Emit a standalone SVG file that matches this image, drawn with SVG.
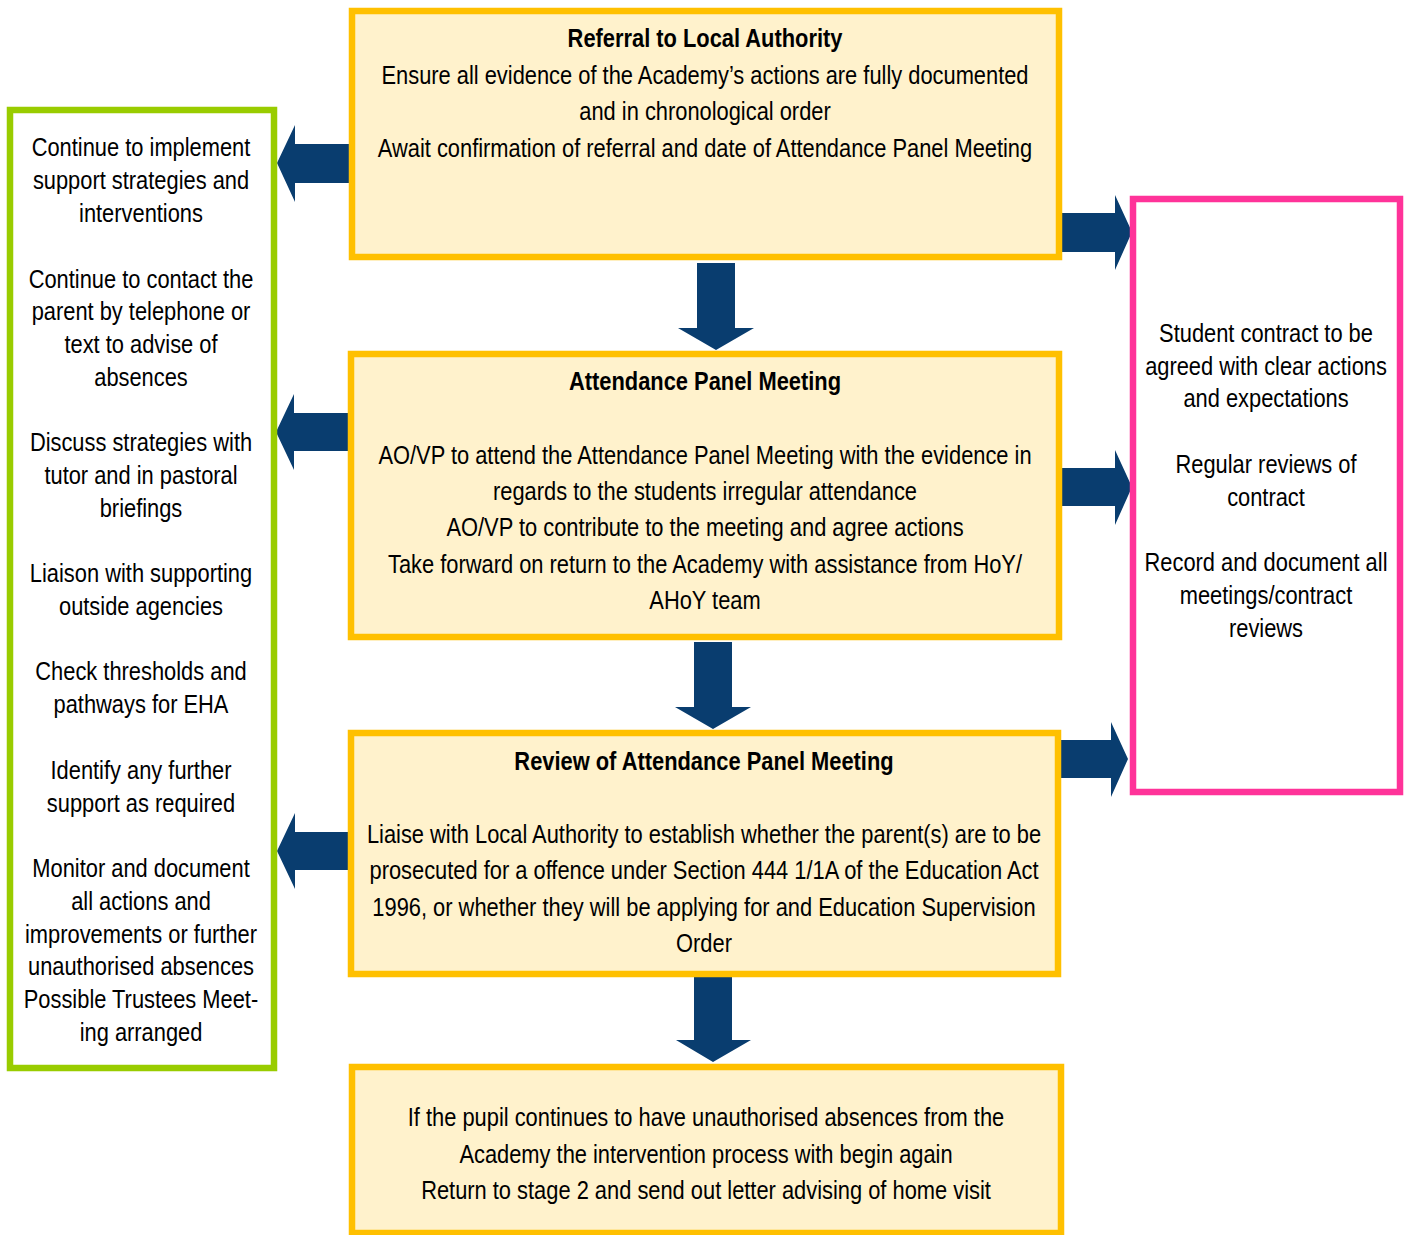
<svg xmlns="http://www.w3.org/2000/svg" width="1407" height="1235" viewBox="0 0 1407 1235">
<style>
.box{fill:#FFF2CC;stroke:#FFC000;stroke-width:6.5}
.green{fill:#FFFFFF;stroke:#99CC00;stroke-width:6.5}
.pink{fill:#FFFFFF;stroke:#FF3399;stroke-width:6.5}
.arr{fill:#093D6F}
text{font-family:"Liberation Sans",Arial,sans-serif;font-size:26.5px;fill:#000;text-anchor:middle}
.b{font-weight:bold}
</style>
<rect width="1407" height="1235" fill="#FFFFFF"/>
<g id="connectors">
<polygon class="arr" points="697,263 735,263 735,328 754,328 716,350 678,328 697,328"/>
<polygon class="arr" points="694,642 732,642 732,707 751,707 713,729 675,707 694,707"/>
<polygon class="arr" points="694,977 732,977 732,1040 751,1040 713,1062 676,1040 694,1040"/>
<polygon class="arr" points="349,144 295,144 295,125 277,163 295,202 295,183 349,183"/>
<polygon class="arr" points="348,413 294,413 294,394 276,432 294,470 294,451 348,451"/>
<polygon class="arr" points="349,832 295,832 295,813 277,851 295,889 295,870 349,870"/>
<polygon class="arr" points="1062,213 1115,213 1115,195 1132,232 1115,270 1115,252 1062,252"/>
<polygon class="arr" points="1062,468 1115,468 1115,450 1132,487 1115,525 1115,506 1062,506"/>
<polygon class="arr" points="1058,740 1111,740 1111,722 1128,759 1111,797 1111,778 1058,778"/>
</g>
<g id="referral">
<rect class="box" x="352" y="11" width="707" height="246"/>
<g transform="translate(705,0) scale(0.825,1)">
<text class="b" x="0" y="47">Referral to Local Authority</text>
<text x="0" y="84">Ensure all evidence of the Academy’s actions are fully documented</text>
<text x="0" y="120">and in chronological order</text>
<text x="0" y="157">Await confirmation of referral and date of Attendance Panel Meeting</text>
</g>
</g>
<g id="panel">
<rect class="box" x="351" y="354" width="708" height="283"/>
<g transform="translate(705,0) scale(0.825,1)">
<text class="b" x="0" y="390">Attendance Panel Meeting</text>
<text x="0" y="464">AO/VP to attend the Attendance Panel Meeting with the evidence in</text>
<text x="0" y="500">regards to the students irregular attendance</text>
<text x="0" y="536">AO/VP to contribute to the meeting and agree actions</text>
<text x="0" y="573">Take forward on return to the Academy with assistance from HoY/</text>
<text x="0" y="609">AHoY team</text>
</g>
</g>
<g id="review">
<rect class="box" x="351" y="733" width="707" height="241"/>
<g transform="translate(704,0) scale(0.825,1)">
<text class="b" x="0" y="770">Review of Attendance Panel Meeting</text>
<text x="0" y="843">Liaise with Local Authority to establish whether the parent(s) are to be</text>
<text x="0" y="879">prosecuted for a offence under Section 444 1/1A of the Education Act</text>
<text x="0" y="916">1996, or whether they will be applying for and Education Supervision</text>
<text x="0" y="952">Order</text>
</g>
</g>
<g id="repeat">
<rect class="box" x="352" y="1067" width="709" height="166"/>
<g transform="translate(706,0) scale(0.825,1)">
<text x="0" y="1126">If the pupil continues to have unauthorised absences from the</text>
<text x="0" y="1163">Academy the intervention process with begin again</text>
<text x="0" y="1199">Return to stage 2 and send out letter advising of home visit</text>
</g>
</g>
<g id="support">
<rect class="green" x="10" y="110" width="264" height="958"/>
<g transform="translate(141,0) scale(0.825,1)">
<text x="0" y="156">Continue to implement</text>
<text x="0" y="189">support strategies and</text>
<text x="0" y="222">interventions</text>
<text x="0" y="288">Continue to contact the</text>
<text x="0" y="320">parent by telephone or</text>
<text x="0" y="353">text to advise of</text>
<text x="0" y="386">absences</text>
<text x="0" y="451">Discuss strategies with</text>
<text x="0" y="484">tutor and in pastoral</text>
<text x="0" y="517">briefings</text>
<text x="0" y="582">Liaison with supporting</text>
<text x="0" y="615">outside agencies</text>
<text x="0" y="680">Check thresholds and</text>
<text x="0" y="713">pathways for EHA</text>
<text x="0" y="779">Identify any further</text>
<text x="0" y="812">support as required</text>
<text x="0" y="877">Monitor and document</text>
<text x="0" y="910">all actions and</text>
<text x="0" y="943">improvements or further</text>
<text x="0" y="975">unauthorised absences</text>
<text x="0" y="1008">Possible Trustees Meet-</text>
<text x="0" y="1041">ing arranged</text>
</g>
</g>
<g id="contract">
<rect class="pink" x="1133" y="199" width="267" height="593"/>
<g transform="translate(1266,0) scale(0.825,1)">
<text x="0" y="342">Student contract to be</text>
<text x="0" y="375">agreed with clear actions</text>
<text x="0" y="407">and expectations</text>
<text x="0" y="473">Regular reviews of</text>
<text x="0" y="506">contract</text>
<text x="0" y="571">Record and document all</text>
<text x="0" y="604">meetings/contract</text>
<text x="0" y="637">reviews</text>
</g>
</g>
</svg>
